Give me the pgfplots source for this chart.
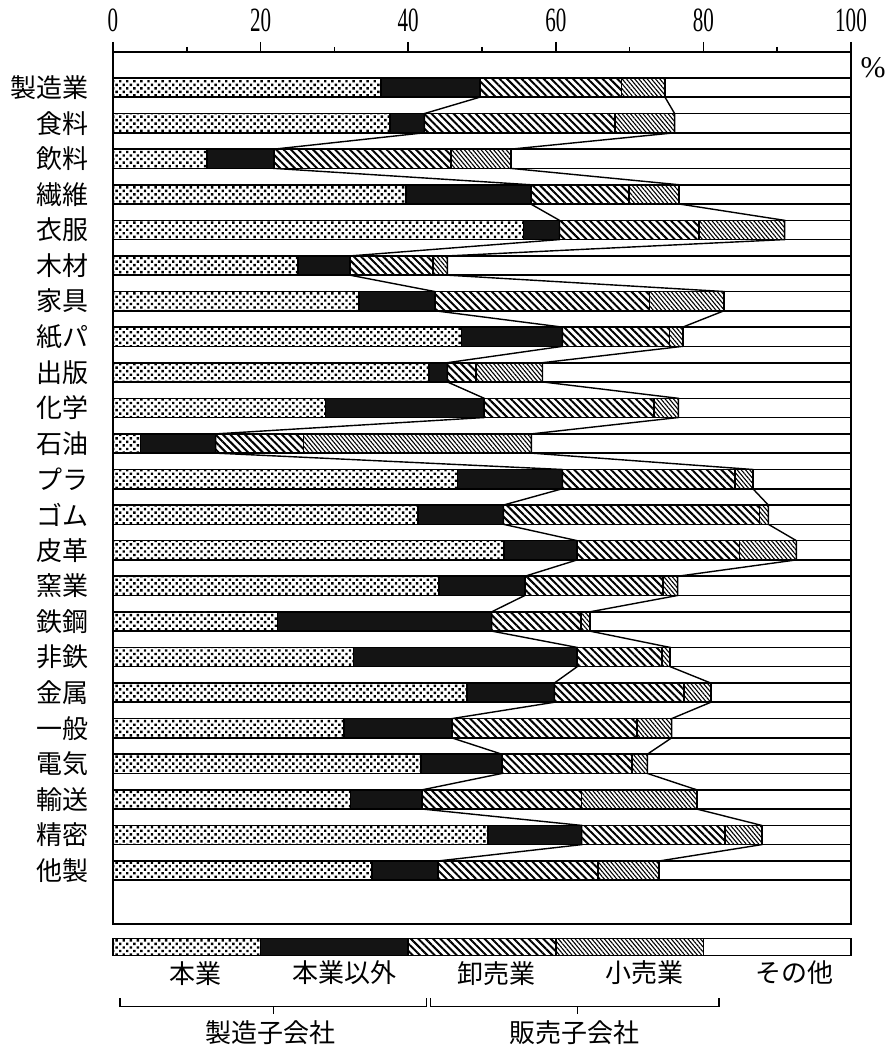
\documentclass[border=0pt]{standalone}
\usepackage{fontspec}
\setmainfont{Liberation Serif}
\newfontfamily\jp{Noto Sans CJK JP}
\newfontfamily\numfont[FakeStretch=0.62]{Liberation Serif}
\usepackage{pgfplots}
\pgfplotsset{compat=1.18}
\usepackage{pgfplotstable}
\usetikzlibrary{patterns.meta}

% cumulative shares (%): c1 = 本業, c2 = +本業以外, c3 = +卸売業, c4 = +小売業, c5 = total
\pgfplotstableread{
y   c1   c2   c3   c4   c5
-1  36.3 49.7 68.9 74.8 100
-2  37.5 42.2 68.0 76.1 100
-3  12.7 21.8 45.8 53.9 100
-4  39.7 56.6 69.9 76.7 100
-5  55.6 60.5 79.4 91.0 100
-6  25.1 32.1 43.4 45.3 100
-7  33.3 43.6 72.7 82.8 100
-8  47.2 60.9 75.4 77.2 100
-9  42.8 45.3 49.2 58.2 100
-10 28.8 50.3 73.3 76.6 100
-11 3.7  13.9 25.8 56.7 100
-12 46.7 60.9 84.3 86.7 100
-13 41.3 52.9 87.6 88.8 100
-14 53.0 62.9 84.9 92.6 100
-15 44.2 55.8 74.5 76.5 100
-16 22.3 51.3 63.4 64.6 100
-17 32.6 62.9 74.4 75.5 100
-18 48.0 59.8 77.4 81.0 100
-19 31.3 45.9 71.0 75.7 100
-20 41.7 52.7 70.3 72.4 100
-21 32.2 41.9 63.5 79.1 100
-22 50.8 63.5 82.9 87.9 100
-23 35.1 44.0 65.7 74.0 100
}\data

\tikzset{
  mybar/.style={xbar, bar width=0.54, bar shift=0pt, draw=black, line width=0.8pt},
  sOther/.style={mybar, fill=white},
  sRetail/.style={mybar, fill=white, postaction={pattern={Lines[angle=-50,distance=1.6pt,line width=0.55pt]}}},
  sWhole/.style={mybar, fill=white, postaction={pattern={Lines[angle=-45,distance=2.6pt,line width=1pt]}}},
  sNon/.style={mybar, fill=black!92},
  sMain/.style={mybar, fill=white, postaction={pattern={Dots[angle=45,distance=2.5pt,radius=0.85pt]}}},
  jpf/.style={font=\jp\fontsize{13pt}{13pt}\selectfont},
}

\begin{document}
\begin{tikzpicture}
\useasboundingbox (-56.5pt,-63pt) rectangle (386.5pt,462pt);
\begin{axis}[
  at={(0,0)}, anchor=south west,
  scale only axis, width=369pt, height=436pt,
  xmin=0, xmax=100, ymin=-24.5, ymax=0,
  clip=false,
  axis line style={line width=0.8pt},
  xtick={0,20,40,60,80,100},
  xticklabels={0,20,40,60,80,100},
  minor xtick={10,30,50,70,90},
  xtick pos=right, xticklabel pos=right,
  tick align=outside,
  major tick length=5pt, minor tick length=2.5pt,
  tick style={line width=0.8pt, black},
  xticklabel style={font=\numfont\fontsize{17pt}{17pt}\selectfont, inner sep=0pt, anchor=south, yshift=5pt},
  ytick={-1,-2,...,-23},
  yticklabels={製造業,食料,飲料,繊維,衣服,木材,家具,紙パ,出版,化学,石油,プラ,ゴム,皮革,窯業,鉄鋼,非鉄,金属,一般,電気,輸送,精密,他製},
  ytick style={draw=none},
  yticklabel style={jpf, anchor=east, inner sep=0pt, xshift=-7pt},
]
\addplot[sOther]  table[x=c5, y=y]{\data};
\addplot[sRetail] table[x=c4, y=y]{\data};
\addplot[sWhole]  table[x=c3, y=y]{\data};
\addplot[sNon]    table[x=c2, y=y]{\data};
\addplot[sMain]   table[x=c1, y=y]{\data};

% connecting lines (manufacturing subsidiaries total, all subsidiaries total)
\addplot[black, line width=0.7pt, sharp plot] coordinates {
(49.7,-0.73) (49.7,-1.27) (42.2,-1.73) (42.2,-2.27) (21.8,-2.73) (21.8,-3.27)
(56.6,-3.73) (56.6,-4.27) (60.5,-4.73) (60.5,-5.27) (32.1,-5.73) (32.1,-6.27)
(43.6,-6.73) (43.6,-7.27) (60.9,-7.73) (60.9,-8.27) (45.3,-8.73) (45.3,-9.27)
(50.3,-9.73) (50.3,-10.27) (13.9,-10.73) (13.9,-11.27) (60.9,-11.73) (60.9,-12.27)
(52.9,-12.73) (52.9,-13.27) (62.9,-13.73) (62.9,-14.27) (55.8,-14.73) (55.8,-15.27)
(51.3,-15.73) (51.3,-16.27) (62.9,-16.73) (62.9,-17.27) (59.8,-17.73) (59.8,-18.27)
(45.9,-18.73) (45.9,-19.27) (52.7,-19.73) (52.7,-20.27) (41.9,-20.73) (41.9,-21.27)
(63.5,-21.73) (63.5,-22.27) (44.0,-22.73) (44.0,-23.27)};
\addplot[black, line width=0.7pt, sharp plot] coordinates {
(74.8,-0.73) (74.8,-1.27) (76.1,-1.73) (76.1,-2.27) (53.9,-2.73) (53.9,-3.27)
(76.7,-3.73) (76.7,-4.27) (91.0,-4.73) (91.0,-5.27) (45.3,-5.73) (45.3,-6.27)
(82.8,-6.73) (82.8,-7.27) (77.2,-7.73) (77.2,-8.27) (58.2,-8.73) (58.2,-9.27)
(76.6,-9.73) (76.6,-10.27) (56.7,-10.73) (56.7,-11.27) (86.7,-11.73) (86.7,-12.27)
(88.8,-12.73) (88.8,-13.27) (92.6,-13.73) (92.6,-14.27) (76.5,-14.73) (76.5,-15.27)
(64.6,-15.73) (64.6,-16.27) (75.5,-16.73) (75.5,-17.27) (81.0,-17.73) (81.0,-18.27)
(75.7,-18.73) (75.7,-19.27) (72.4,-19.73) (72.4,-20.27) (79.1,-20.73) (79.1,-21.27)
(87.9,-21.73) (87.9,-22.27) (74.0,-22.73) (74.0,-23.27)};

% legend key bar
\addplot[sOther, bar width=0.48]  coordinates {(100,-25.15)};
\addplot[sRetail, bar width=0.48] coordinates {(80,-25.15)};
\addplot[sWhole, bar width=0.48]  coordinates {(60,-25.15)};
\addplot[sNon, bar width=0.48]    coordinates {(40,-25.15)};
\addplot[sMain, bar width=0.48]   coordinates {(20,-25.15)};

\node[jpf] at (axis cs:11.2,-25.88) {本業};
\node[jpf] at (axis cs:31.4,-25.88) {本業以外};
\node[jpf] at (axis cs:51.9,-25.88) {卸売業};
\node[jpf] at (axis cs:72.0,-25.88) {小売業};
\node[jpf] at (axis cs:92.4,-25.88) {その他};

\draw[line width=0.6pt] (axis cs:0.95,-26.58) -- (axis cs:0.95,-26.81) -- (axis cs:42.5,-26.81) -- (axis cs:42.5,-26.58);
\draw[line width=0.6pt] (axis cs:21.7,-26.81) -- (axis cs:21.7,-27.03);
\draw[line width=0.6pt] (axis cs:43.0,-26.58) -- (axis cs:43.0,-26.81) -- (axis cs:82.1,-26.81) -- (axis cs:82.1,-26.58);
\draw[line width=0.6pt] (axis cs:62.9,-26.81) -- (axis cs:62.9,-27.03);
\node[jpf] at (axis cs:21.3,-27.56) {製造子会社};
\node[jpf] at (axis cs:62.5,-27.56) {販売子会社};

\node[font=\fontsize{15pt}{15pt}\selectfont] at (axis cs:103.0,-0.45) {\%};
\end{axis}
\end{tikzpicture}
\end{document}
